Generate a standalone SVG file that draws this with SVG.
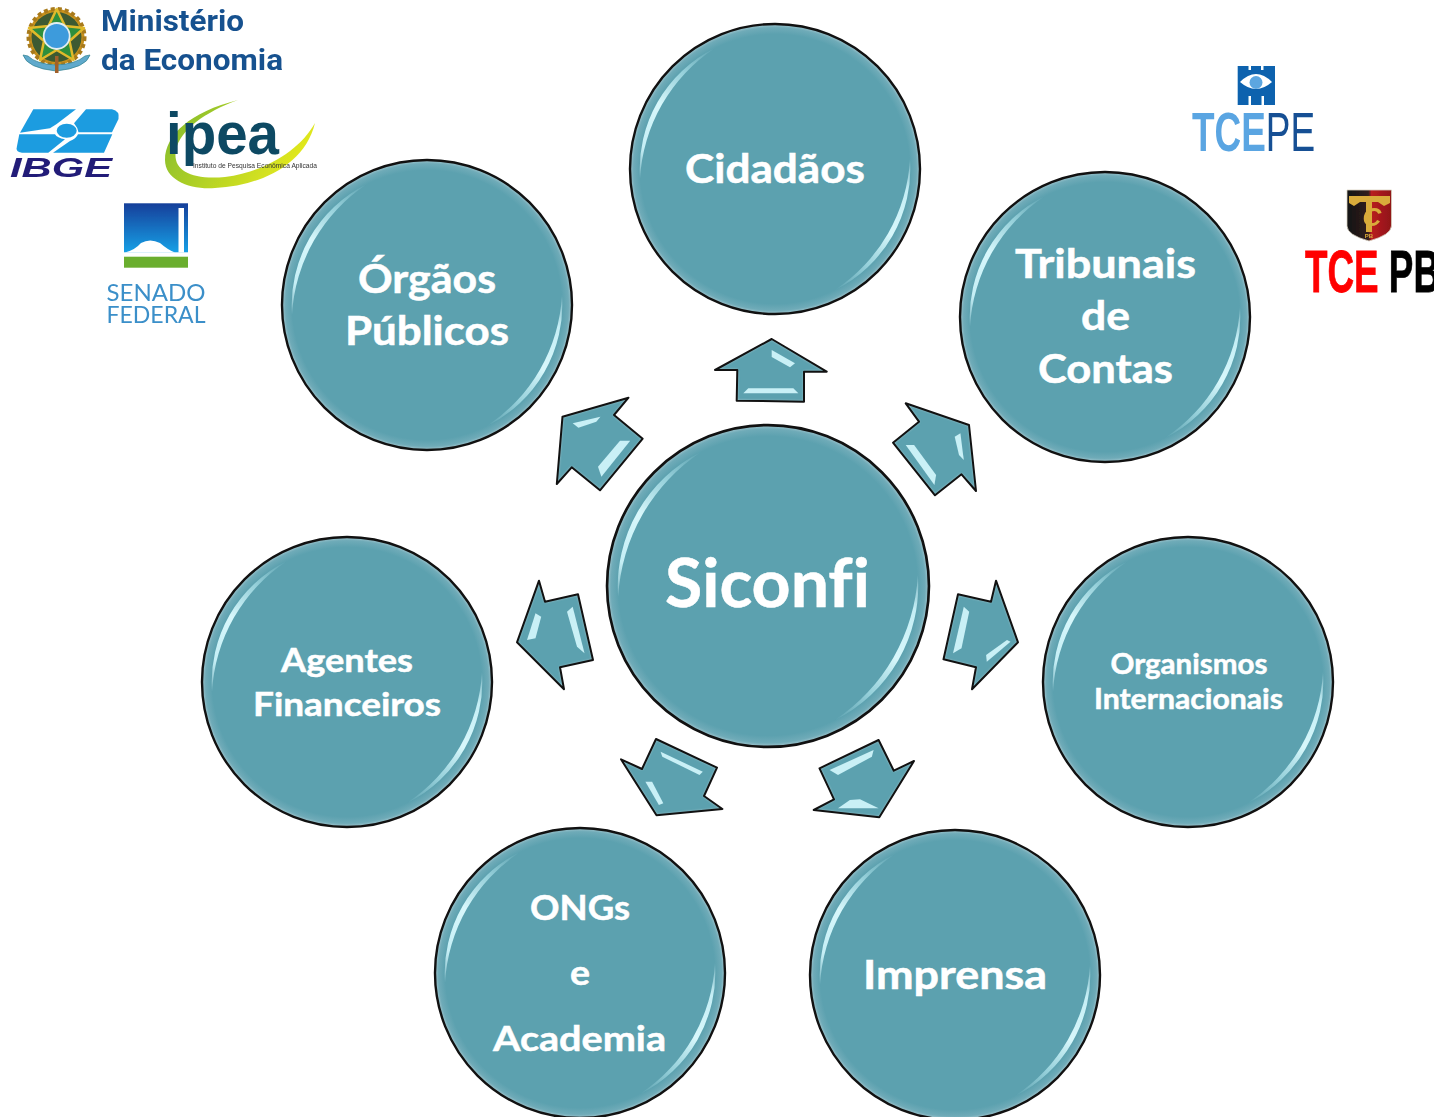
<svg xmlns="http://www.w3.org/2000/svg" width="1434" height="1117" viewBox="0 0 1434 1117">
<style>
text{font-family:"Lato","Liberation Sans",sans-serif}
.t{fill:#fff;stroke:#fff;stroke-width:.5;font-weight:700;text-anchor:middle;font-variant-ligatures:none}
.s40{font-size:40px}.s35{font-size:35px}.s33{font-size:33px}.s28{font-size:28px}
.af{fill:#5ca1af;filter:url(#rim)}
.al{fill:none;stroke:#111;stroke-width:2;stroke-linejoin:round}
.h{fill:#c9f0f6;filter:url(#soft)}
.lg{font-family:"Liberation Sans",sans-serif}
.ms{font-family:"Roboto","Liberation Sans",sans-serif;font-size:30px;font-weight:700;fill:#17518f}
.ib{fill:#1e9ce0}
.sn{font-size:23px;fill:#3b8fc9}
</style>
<defs>
<radialGradient id="ballFill" cx="50%" cy="50%" r="50%">
<stop offset="0.93" stop-color="#5ca1af"/><stop offset="0.975" stop-color="#6fabb8"/><stop offset="1" stop-color="#a3c6ce"/>
</radialGradient>
<linearGradient id="shine" gradientUnits="userSpaceOnUse" x1="-136" y1="12" x2="-60" y2="-122">
<stop offset="0" stop-color="#d4f5fa" stop-opacity="0.1"/><stop offset="0.2" stop-color="#c4eef5"/><stop offset="0.5" stop-color="#d8f7fb"/><stop offset="0.75" stop-color="#a6dde6" stop-opacity="0.8"/><stop offset="1" stop-color="#a6dde6" stop-opacity="0"/>
</linearGradient>
<linearGradient id="senadoBlue" x1="0" y1="0" x2="0" y2="1"><stop offset="0" stop-color="#123f9a"/><stop offset="1" stop-color="#19a0e6"/></linearGradient>
<linearGradient id="swoosh" x1="0" y1="0" x2="1" y2="0.4"><stop offset="0" stop-color="#7cb82f"/><stop offset="1" stop-color="#e2e81e"/></linearGradient>
<linearGradient id="shield" x1="0" y1="0" x2="1" y2="0"><stop offset="0" stop-color="#111"/><stop offset="0.48" stop-color="#33201f"/><stop offset="0.55" stop-color="#b81c20"/><stop offset="1" stop-color="#8f1518"/></linearGradient>
<filter id="soft" x="-20%" y="-20%" width="140%" height="140%"><feGaussianBlur stdDeviation="0.6"/></filter>
<filter id="logo" x="-5%" y="-5%" width="110%" height="110%"><feGaussianBlur stdDeviation="0.4"/></filter>
<filter id="rim" x="-10%" y="-10%" width="120%" height="120%">
<feGaussianBlur in="SourceAlpha" stdDeviation="1.8" result="b"/>
<feComposite in="SourceAlpha" in2="b" operator="arithmetic" k2="1" k3="-1" result="e"/>
<feFlood flood-color="#b4d6dc"/><feComposite in2="e" operator="in" result="r"/>
<feMerge><feMergeNode in="SourceGraphic"/><feMergeNode in="r"/></feMerge>
</filter>
<g id="ball">
<circle r="145" fill="url(#ballFill)" stroke="#111" stroke-width="2.4"/>
<path id="cres" d="M-135,10 A135.500,135.500 0 0 1 -60,-121 A168,168 0 0 0 -135,10Z" fill="url(#shine)" filter="url(#soft)"/>
<use href="#cres" transform="rotate(180)"/>
</g>
<polygon id="a1" points="771.7,339 826.7,371.7 804,371.7 804,401.7 736.7,400.7 737.3,370 715,370"/>
<polygon id="a2" points="905.7,403.3 969,425 976,491 961.5,474.3 935,495.3 893,442.7 919,421.7"/>
<polygon id="a3" points="996,580.7 1018,642.3 972,689.3 976,667.3 943.5,659.3 958,594.3 991,601.7"/>
<polygon id="a4" points="878.6,740 893.8,770.7 914,761 879.3,817.3 813.7,810 834,799.3 819.5,768.3"/>
<polygon id="a5" points="656,739 717,767.7 704,796 722.4,809 656.5,815.3 621,759.3 642,769"/>
<polygon id="a6" points="539,580.7 545,601.7 578,594.3 593,660 560,667.3 564,689.3 517,642.3"/>
<polygon id="a7" points="628.5,397.7 614,415 642.7,438.7 600,490.3 571.7,467.3 556.8,484 562.5,416.7"/>
</defs>
<rect width="1434" height="1117" fill="#fff"/>

<g id="connectors">
<g id="arrow-cidadaos"><use href="#a1" class="af"/><polygon class="h" points="771.7,350 795,363.3 790,367.3 771.7,357"/><polygon class="h" points="748.3,388.3 793.3,388.3 798.3,393.3 743.3,393.3"/><use href="#a1" class="al"/></g>
<g id="arrow-tribunais"><use href="#a2" class="af"/><polygon class="h" points="954.7,436.7 960.4,433.3 963.8,460 959,455"/><polygon class="h" points="905.7,445 914.1,445 936.1,475 934.4,485"/><use href="#a2" class="al"/></g>
<g id="arrow-organismos"><use href="#a3" class="af"/><polygon class="h" points="963.8,606.7 969.2,611.7 961.5,648.3 953,653.3"/><polygon class="h" points="1007,640 1010.5,641.7 986.8,661.7 986.1,655"/><use href="#a3" class="al"/></g>
<g id="arrow-imprensa"><use href="#a4" class="af"/><polygon class="h" points="829.6,770 873.6,750 871.9,756.7 838,775"/><polygon class="h" points="849.9,800 860,799.3 878.6,808.3 838,808.3"/><use href="#a4" class="al"/></g>
<g id="arrow-ongs"><use href="#a5" class="af"/><polygon class="h" points="660.6,751.7 702.8,771.7 699.5,775 662.3,756.7"/><polygon class="h" points="645.4,781.7 652.1,781.7 663.3,803.3 658.9,805"/><use href="#a5" class="al"/></g>
<g id="arrow-agentes"><use href="#a6" class="af"/><polygon class="h" points="567,611.7 572.7,606.7 584.5,653.3 577,646.7"/><polygon class="h" points="535.5,613.3 541.2,616.7 535.5,638.3 527,640"/><use href="#a6" class="al"/></g>
<g id="arrow-orgaos"><use href="#a7" class="af"/><polygon class="h" points="572.7,423.3 600.4,416.7 596.3,421.7 578.4,427.7"/><polygon class="h" points="630.2,440.7 601.4,476.7 598,466.7 620,440.7"/><use href="#a7" class="al"/></g>
</g>

<g id="node-cidadaos"><use href="#ball" transform="translate(775,169)"/><text class="t s40" x="775" y="183" textLength="180" lengthAdjust="spacingAndGlyphs">Cidadãos</text></g>
<g id="node-tribunais"><use href="#ball" transform="translate(1105,317)"/><text class="t s40" x="1105.500" y="278" textLength="181" lengthAdjust="spacingAndGlyphs">Tribunais</text><text class="t s40" x="1105.500" y="330" textLength="49" lengthAdjust="spacingAndGlyphs">de</text><text class="t s40" x="1105.500" y="383" textLength="135" lengthAdjust="spacingAndGlyphs">Contas</text></g>
<g id="node-organismos"><use href="#ball" transform="translate(1188,682)"/><text class="t s28" x="1189" y="674" textLength="157" lengthAdjust="spacingAndGlyphs">Organismos</text><text class="t s28" x="1188.500" y="709" textLength="189" lengthAdjust="spacingAndGlyphs">Internacionais</text></g>
<g id="node-imprensa"><use href="#ball" transform="translate(955,975)"/><text class="t s40" x="955" y="989" textLength="184" lengthAdjust="spacingAndGlyphs">Imprensa</text></g>
<g id="node-ongs"><use href="#ball" transform="translate(580,973)"/><text class="t s35" x="580" y="920" textLength="100" lengthAdjust="spacingAndGlyphs">ONGs</text><text class="t s35" x="580" y="985" textLength="20" lengthAdjust="spacingAndGlyphs">e</text><text class="t s35" x="579.500" y="1051" textLength="173" lengthAdjust="spacingAndGlyphs">Academia</text></g>
<g id="node-agentes"><use href="#ball" transform="translate(347,682)"/><text class="t s33" x="347" y="672" textLength="132" lengthAdjust="spacingAndGlyphs">Agentes</text><text class="t s33" x="347" y="716" textLength="188" lengthAdjust="spacingAndGlyphs">Financeiros</text></g>
<g id="node-orgaos"><use href="#ball" transform="translate(427,305)"/><text class="t s40" x="427" y="293" textLength="138" lengthAdjust="spacingAndGlyphs">Órgãos</text><text class="t s40" x="427" y="345" textLength="164" lengthAdjust="spacingAndGlyphs">Públicos</text></g>
<g id="node-siconfi"><use href="#ball" transform="translate(768,586) scale(1.11)"/><text class="t" style="font-size:67px" x="767.500" y="607" textLength="205" lengthAdjust="spacingAndGlyphs">Siconfi</text></g>

<g id="logo-ministerio" filter="url(#logo)">
<circle cx="56.500" cy="37" r="28" fill="#c8921f" stroke="#a87a1c" stroke-width="4" stroke-dasharray="4 3"/>
<circle cx="56.500" cy="37" r="25" fill="#3d5a30"/>
<polygon points="56.700,9 65,26 84,28 69.500,41 73.500,60 56.700,50 40,60 44,41 29,28 48.500,26" fill="#2e8f3c" stroke="#e0b92c" stroke-width="2.500" stroke-linejoin="round"/>
<circle cx="56.700" cy="36" r="13" fill="#3d9bdc" stroke="#e4eef0" stroke-width="1.800"/>
<path d="M23,55 Q27,68 56,71 Q86,68 90,55 L85,56 Q76,64 56,65 Q36,64 28,56Z" fill="#5fa9cc" stroke="#2f7f8e" stroke-width="0.700"/>
<rect x="55" y="56" width="3.500" height="17" fill="#a0602a"/>
<text class="ms" x="101" y="31" textLength="143" lengthAdjust="spacingAndGlyphs">Ministério</text>
<text class="ms" x="101" y="70" textLength="182" lengthAdjust="spacingAndGlyphs">da Economia</text>
</g>

<g id="logo-ibge" filter="url(#logo)">
<path class="ib" d="M33.300,109.300H76L56.700,124 50,128.300 20,132.700Z"/>
<path class="ib" d="M86,109.300H112Q120,111 118.500,119L112,132.300H78.500Q78,128 74,123.300Z"/>
<path class="ib" d="M19.300,134.300H55Q57,138 65,139.300L48.300,152.700H22Q15,152 17,146Z"/>
<path class="ib" d="M78,134.300H112.300L104,152.700H53L70,141Q76,139 78,134.300Z"/>
<ellipse cx="66.700" cy="130.700" rx="10" ry="7" class="ib"/>
<text class="lg" x="10" y="177" font-size="28" font-weight="700" font-style="italic" fill="#241c78" textLength="102" lengthAdjust="spacingAndGlyphs">IBGE</text>
</g>

<g id="logo-ipea" filter="url(#logo)">
<path fill="url(#swoosh)" d="M238,100C190,112 165,135 165,160C165,180 190,190 215,188C260,186 305,165 315,123C300,150 265,172 225,177C190,180 172,170 176,150C180,130 205,112 238,100Z"/>
<text class="lg" x="166" y="154" font-size="60" font-weight="700" fill="#0d4a63" textLength="113" lengthAdjust="spacingAndGlyphs">ipea</text>
<text class="lg" x="193" y="168" font-size="7" fill="#333" textLength="124" lengthAdjust="spacingAndGlyphs">Instituto de Pesquisa Econômica Aplicada</text>
</g>

<g id="logo-senado" filter="url(#logo)">
<rect x="124" y="203.300" width="64" height="49" fill="url(#senadoBlue)"/>
<path fill="#fff" d="M125,252.500Q135,250 141,243Q150,238 160,243Q168,250 175,252.500Z"/>
<rect x="178.500" y="208" width="5.500" height="44.500" fill="#fff"/>
<rect x="124" y="256.700" width="64" height="11" fill="#6bae2e"/>
<text class="sn" x="106.500" y="301" textLength="99" lengthAdjust="spacingAndGlyphs">SENADO</text>
<text class="sn" x="106.500" y="322.500" textLength="99" lengthAdjust="spacingAndGlyphs">FEDERAL</text>
</g>

<g id="logo-tcepe" filter="url(#logo)">
<path fill="#0b62ae" d="M1237.700,66H1248.500V70H1251V66H1261V70H1263.500V66H1275V105H1264V96H1261.500V105H1251V96H1248.500V105H1237.700Z"/>
<path fill="#fff" d="M1240,82Q1256,66 1272,82Q1256,96 1240,82Z"/>
<circle cx="1256" cy="82.500" r="6.500" fill="#5ba6e0"/>
<text class="lg" x="1192" y="150.500" font-size="56" fill="#134f94" textLength="123" lengthAdjust="spacingAndGlyphs"><tspan font-weight="700" fill="#5aa5e2">TCE</tspan>PE</text>
</g>

<g id="logo-tcepb" filter="url(#logo)">
<path fill="url(#shield)" stroke="#d8d0c0" stroke-width="0.800" d="M1347,190H1391.500V226Q1391,235 1369,241Q1347,235 1347,226Z"/>
<path fill="#d9ab3a" d="M1349,196H1390V203L1384,206 1378,202H1372V232H1366V202H1360L1354,206 1349,203Z"/>
<text class="lg" x="1372" y="226" font-size="26" font-weight="700" font-style="italic" fill="#d9ab3a" text-anchor="middle">C</text>
<text class="lg" x="1369" y="238" font-size="6" font-weight="700" fill="#d9ab3a" text-anchor="middle">PB</text>
<text class="lg" x="1305" y="292" font-size="60" font-weight="700" fill="#000" stroke="#000" stroke-width="0.800" textLength="135" lengthAdjust="spacingAndGlyphs"><tspan fill="#f00" stroke="#f00">TCE</tspan> PB</text>
</g>
</svg>
